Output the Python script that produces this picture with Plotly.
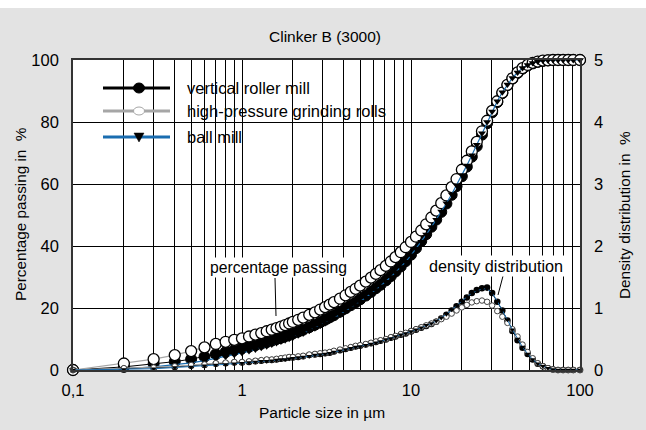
import plotly.graph_objects as go

# Particle size classes (µm)
size_um = [0.1, 0.2, 0.3, 0.4, 0.5, 0.6, 0.7, 0.8, 0.9, 1.0,
           1.1, 1.2, 1.3, 1.4, 1.5, 1.6, 1.7, 1.8, 1.9, 2.0,
           2.15, 2.3, 2.5, 2.7, 2.9, 3.1, 3.3, 3.5, 3.8, 4.1,
           4.4, 4.7, 5.0, 5.4, 5.8, 6.2, 6.6, 7.1, 7.6, 8.1,
           8.7, 9.3, 10, 10.7, 11.5, 12.3, 13.2, 14.1, 15.1, 16.2,
           17.4, 18.6, 20, 21.4, 22.9, 24.5, 26.3, 28.2, 30.2, 32.4,
           34.7, 37.2, 39.8, 42.7, 45.7, 49, 52.5, 56.2, 60.3, 64.6,
           69.2, 74.1, 79.4, 85.1, 91.2, 100]

# Percentage passing (%)
passing_vrm = [0, 1.0, 2.0, 2.7, 3.5, 4.3, 5.1, 5.8, 6.4, 7.0,
               7.5, 8.0, 8.5, 9.0, 9.5, 10.0, 10.4, 10.9, 11.3, 11.8,
               12.4, 13.0, 13.8, 14.6, 15.4, 16.2, 17.0, 17.7, 18.8, 19.9,
               20.9, 21.8, 22.8, 24.0, 25.2, 26.4, 27.5, 28.9, 30.3, 31.8,
               33.4, 35.1, 37.2, 39.3, 41.6, 43.8, 46.2, 48.5, 51.0, 53.7,
               56.5, 59.3, 62.5, 65.6, 68.8, 72.2, 75.9, 79.6, 83.1, 86.4,
               89.3, 91.9, 94.0, 95.8, 97.2, 98.2, 98.9, 99.4, 99.7, 99.9,
               100, 100, 100, 100, 100, 100]
passing_hpgr = [0, 2.1, 3.5, 4.8, 6.1, 7.3, 8.4, 9.1, 9.7, 10.2,
                10.8, 11.4, 11.9, 12.5, 13.0, 13.5, 14.0, 14.5, 15.0, 15.5,
                16.2, 16.9, 17.8, 18.6, 19.5, 20.3, 21.1, 21.9, 23.0, 24.1,
                25.2, 26.2, 27.2, 28.5, 29.8, 31.0, 32.2, 33.6, 35.0, 36.4,
                38.0, 39.6, 41.3, 43.0, 45.0, 47.0, 49.2, 51.4, 53.8, 56.3,
                59.0, 61.6, 64.6, 67.5, 70.5, 73.6, 77.0, 80.4, 83.6, 86.7,
                89.5, 92.0, 94.1, 96.0, 97.4, 98.4, 99.1, 99.5, 99.8, 99.9,
                100, 100, 100, 100, 100, 100]
passing_ball = [0, 0.4, 1.0, 1.6, 2.3, 3.0, 3.7, 4.3, 4.9, 5.5,
                6.1, 6.6, 7.2, 7.7, 8.2, 8.7, 9.2, 9.6, 10.1, 10.5,
                11.2, 11.8, 12.7, 13.5, 14.3, 15.1, 15.9, 16.7, 17.8, 18.9,
                20.0, 21.0, 22.0, 23.3, 24.6, 25.8, 27.0, 28.5, 30.0, 31.5,
                33.2, 34.9, 37.0, 39.1, 41.4, 43.7, 46.1, 48.5, 51.1, 53.8,
                56.7, 59.6, 62.9, 66.0, 69.3, 72.7, 76.4, 80.0, 83.4, 86.7,
                89.6, 92.1, 94.2, 96.0, 97.4, 98.4, 99.0, 99.5, 99.8, 99.9,
                100, 100, 100, 100, 100, 100]

# Density distribution (%)
density_vrm = [0, 0.02, 0.03, 0.05, 0.07, 0.08, 0.10, 0.11, 0.12, 0.12,
               0.13, 0.14, 0.15, 0.16, 0.16, 0.17, 0.18, 0.19, 0.20, 0.20,
               0.21, 0.22, 0.24, 0.25, 0.26, 0.27, 0.28, 0.30, 0.32, 0.34,
               0.36, 0.38, 0.39, 0.41, 0.43, 0.45, 0.47, 0.49, 0.52, 0.54,
               0.57, 0.59, 0.62, 0.65, 0.68, 0.71, 0.74, 0.78, 0.83, 0.89,
               0.96, 1.03, 1.10, 1.17, 1.24, 1.29, 1.32, 1.33, 1.24, 1.10,
               0.96, 0.80, 0.63, 0.48, 0.36, 0.26, 0.17, 0.10, 0.06, 0.03,
               0.01, 0, 0, 0, 0, 0]
density_hpgr = [0, 0.03, 0.04, 0.06, 0.08, 0.09, 0.11, 0.12, 0.13, 0.13,
                0.14, 0.15, 0.16, 0.17, 0.17, 0.18, 0.19, 0.20, 0.21, 0.21,
                0.22, 0.23, 0.25, 0.26, 0.27, 0.28, 0.29, 0.31, 0.33, 0.35,
                0.37, 0.39, 0.40, 0.42, 0.44, 0.46, 0.48, 0.50, 0.53, 0.55,
                0.58, 0.60, 0.63, 0.66, 0.69, 0.72, 0.75, 0.78, 0.82, 0.86,
                0.91, 0.96, 1.01, 1.05, 1.09, 1.11, 1.12, 1.10, 1.04, 0.95,
                0.86, 0.76, 0.66, 0.54, 0.41, 0.29, 0.19, 0.11, 0.06, 0.03,
                0.01, 0, 0, 0, 0, 0]
density_ball = [0, 0.01, 0.02, 0.04, 0.05, 0.07, 0.08, 0.09, 0.10, 0.11,
                0.12, 0.13, 0.14, 0.14, 0.15, 0.16, 0.17, 0.17, 0.18, 0.19,
                0.20, 0.21, 0.22, 0.24, 0.25, 0.26, 0.27, 0.29, 0.31, 0.33,
                0.35, 0.37, 0.38, 0.40, 0.42, 0.44, 0.46, 0.49, 0.51, 0.54,
                0.57, 0.59, 0.62, 0.65, 0.68, 0.72, 0.75, 0.79, 0.84, 0.90,
                0.97, 1.04, 1.11, 1.18, 1.24, 1.28, 1.31, 1.31, 1.24, 1.11,
                0.97, 0.81, 0.65, 0.50, 0.37, 0.26, 0.17, 0.10, 0.06, 0.03,
                0.01, 0, 0, 0, 0, 0]

series_names = ["vertical roller mill", "high-pressure grinding rolls", "ball mill"]

x_tick_vals = [0.1, 0.2, 0.3, 0.4, 0.5, 0.6, 0.7, 0.8, 0.9,
               1, 2, 3, 4, 5, 6, 7, 8, 9,
               10, 20, 30, 40, 50, 60, 70, 80, 90, 100]
x_tick_text = ["0,1"] + [""] * 8 + ["1"] + [""] * 8 + ["10"] + [""] * 8 + ["100"]
y_left_ticks = [0, 20, 40, 60, 80, 100]
y_right_ticks = [0, 1, 2, 3, 4, 5]

FONT = "Liberation Sans, Arial, Helvetica, sans-serif"
BLACK = "#000000"
GREY = "#a6a6a6"
BLUE = "#1a6db0"
BG = "#e3e3e3"

fig = go.Figure()

# Cumulative curves (left axis)
fig.add_trace(go.Scatter(x=size_um, y=passing_vrm, mode="lines+markers",
                         line=dict(color=BLACK, width=1),
                         marker=dict(symbol="circle", size=11, color=BLACK,
                                     line=dict(color=BLACK, width=1)),
                         cliponaxis=False, showlegend=False))
fig.add_trace(go.Scatter(x=size_um, y=passing_hpgr, mode="lines+markers",
                         line=dict(color=GREY, width=1.2),
                         marker=dict(symbol="circle", size=11, color="white",
                                     line=dict(color=BLACK, width=1.3)),
                         cliponaxis=False, showlegend=False))
fig.add_trace(go.Scatter(x=size_um, y=passing_ball, mode="lines+markers",
                         line=dict(color=BLUE, width=1.2),
                         marker=dict(symbol="triangle-down", size=7, color=BLACK,
                                     line=dict(width=0)),
                         cliponaxis=False, showlegend=False))

# Density curves (right axis)
fig.add_trace(go.Scatter(x=size_um, y=density_vrm, yaxis="y2", mode="lines+markers",
                         line=dict(color=BLACK, width=1),
                         marker=dict(symbol="circle", size=6.5, color=BLACK),
                         cliponaxis=False, showlegend=False))
fig.add_trace(go.Scatter(x=size_um, y=density_hpgr, yaxis="y2", mode="lines+markers",
                         line=dict(color=GREY, width=1),
                         marker=dict(symbol="circle", size=5.5, color="white",
                                     line=dict(color="#444444", width=1)),
                         cliponaxis=False, showlegend=False))
fig.add_trace(go.Scatter(x=size_um, y=density_ball, yaxis="y2", mode="lines+markers",
                         line=dict(color=BLUE, width=1),
                         marker=dict(symbol="triangle-down", size=5, color=BLACK,
                                     line=dict(width=0)),
                         cliponaxis=False, showlegend=False))

# Plot area in pixels: left 73, right 580, top 60, bottom 370
W, H = 646, 430
L, R, T, B = 73, 580, 60, 370


def px(xp):
    return (xp - L) / (R - L)


def py(yp):
    return (B - yp) / (B - T)


shapes = []
# white strip along the top edge of the figure
shapes.append(dict(type="rect", xref="paper", yref="paper", x0=px(0), x1=px(W),
                   y0=py(8), y1=py(0), fillcolor="white", line=dict(width=0), layer="above"))
# legend box
shapes.append(dict(type="rect", xref="paper", yref="paper", x0=px(88), x1=px(390),
                   y0=py(157), y1=py(70), fillcolor="white", line=dict(width=0),
                   layer="between"))

legend_rows = [88, 111, 137]
legend_line_colors = [BLACK, GREY, BLUE]
for yrow, col in zip(legend_rows, legend_line_colors):
    shapes.append(dict(type="line", xref="paper", yref="paper", x0=px(103), x1=px(170),
                       y0=py(yrow), y1=py(yrow), line=dict(color=col, width=3), layer="above"))

# legend symbols
mx = 139
shapes.append(dict(type="circle", xref="paper", yref="paper",
                   x0=px(mx - 5.5), x1=px(mx + 5.5), y0=py(legend_rows[0] + 5),
                   y1=py(legend_rows[0] - 5), fillcolor=BLACK,
                   line=dict(color=BLACK, width=1), layer="above"))
shapes.append(dict(type="circle", xref="paper", yref="paper",
                   x0=px(mx - 5.5), x1=px(mx + 5.5), y0=py(legend_rows[1] + 4),
                   y1=py(legend_rows[1] - 4), fillcolor="white",
                   line=dict(color=GREY, width=1), layer="above"))
ty = legend_rows[2]
shapes.append(dict(type="path", xref="paper", yref="paper",
                   path=f"M {px(mx - 5)} {py(ty - 4)} L {px(mx + 5)} {py(ty - 4)} "
                        f"L {px(mx)} {py(ty + 5)} Z",
                   fillcolor=BLACK, line=dict(color=BLACK, width=0.5), layer="above"))

# leader lines for the curve labels
shapes.append(dict(type="line", xref="paper", yref="paper", x0=px(275), x1=px(276),
                   y0=py(278), y1=py(316), line=dict(color=BLACK, width=1), layer="above"))
shapes.append(dict(type="line", xref="paper", yref="paper", x0=px(503), x1=px(498),
                   y0=py(276), y1=py(295), line=dict(color=BLACK, width=1), layer="above"))

annotations = []
for yrow, name in zip(legend_rows, series_names):
    annotations.append(dict(text=name, xref="paper", yref="paper", x=px(185), y=py(yrow),
                            xanchor="left", yanchor="middle", showarrow=False,
                            font=dict(family=FONT, size=16.5, color=BLACK)))

annotations.append(dict(text="percentage passing", xref="paper", yref="paper",
                        x=px(278), y=py(267), xanchor="center", yanchor="middle",
                        showarrow=False, bgcolor="white", borderpad=1,
                        font=dict(family=FONT, size=15.7, color=BLACK)))
annotations.append(dict(text="density distribution", xref="paper", yref="paper",
                        x=px(496), y=py(266), xanchor="center", yanchor="middle",
                        showarrow=False, bgcolor="white", borderpad=1,
                        font=dict(family=FONT, size=16.2, color=BLACK)))

annotations.append(dict(text="Clinker B (3000)", xref="paper", yref="paper",
                        x=px(325), y=py(37), xanchor="center", yanchor="middle",
                        showarrow=False, font=dict(family=FONT, size=15.5, color=BLACK)))
annotations.append(dict(text="Particle size in \u00b5m", xref="paper", yref="paper",
                        x=px(322), y=py(412), xanchor="center", yanchor="middle",
                        showarrow=False, font=dict(family=FONT, size=15.5, color=BLACK)))
annotations.append(dict(text="Percentage passing in \u00a0%", xref="paper", yref="paper",
                        x=px(20), y=py(214), xanchor="center", yanchor="middle",
                        textangle=-90, showarrow=False,
                        font=dict(family=FONT, size=15.3, color=BLACK)))
annotations.append(dict(text="Density distribution in \u00a0%", xref="paper", yref="paper",
                        x=px(624), y=py(215), xanchor="center", yanchor="middle",
                        textangle=-90, showarrow=False,
                        font=dict(family=FONT, size=15.3, color=BLACK)))

axis_font = dict(family=FONT, size=16.5, color=BLACK)

fig.update_layout(
    width=W, height=H,
    margin=dict(l=L, r=W - R, t=T, b=H - B, pad=0),
    paper_bgcolor=BG, plot_bgcolor="white",
    showlegend=False,
    shapes=shapes, annotations=annotations,
    xaxis=dict(type="log", range=[-1, 2], tickvals=x_tick_vals, ticktext=x_tick_text,
               showgrid=True, gridcolor=BLACK, gridwidth=1.3,
               showline=True, linecolor="#333333", linewidth=1.6, mirror=True,
               ticks="", tickfont=axis_font, ticklabelstandoff=4, zeroline=False),
    yaxis=dict(range=[0, 100], tickvals=y_left_ticks,
               showgrid=True, gridcolor=BLACK, gridwidth=1.3,
               showline=True, linecolor="#333333", linewidth=1.6, mirror=True,
               ticks="", tickfont=axis_font, ticklabelstandoff=9, zeroline=False),
    yaxis2=dict(range=[0, 5], tickvals=y_right_ticks, overlaying="y", side="right",
                showgrid=False, showline=False, ticks="", tickfont=axis_font,
                ticklabelstandoff=13, zeroline=False),
)

fig.write_html("out.html")
